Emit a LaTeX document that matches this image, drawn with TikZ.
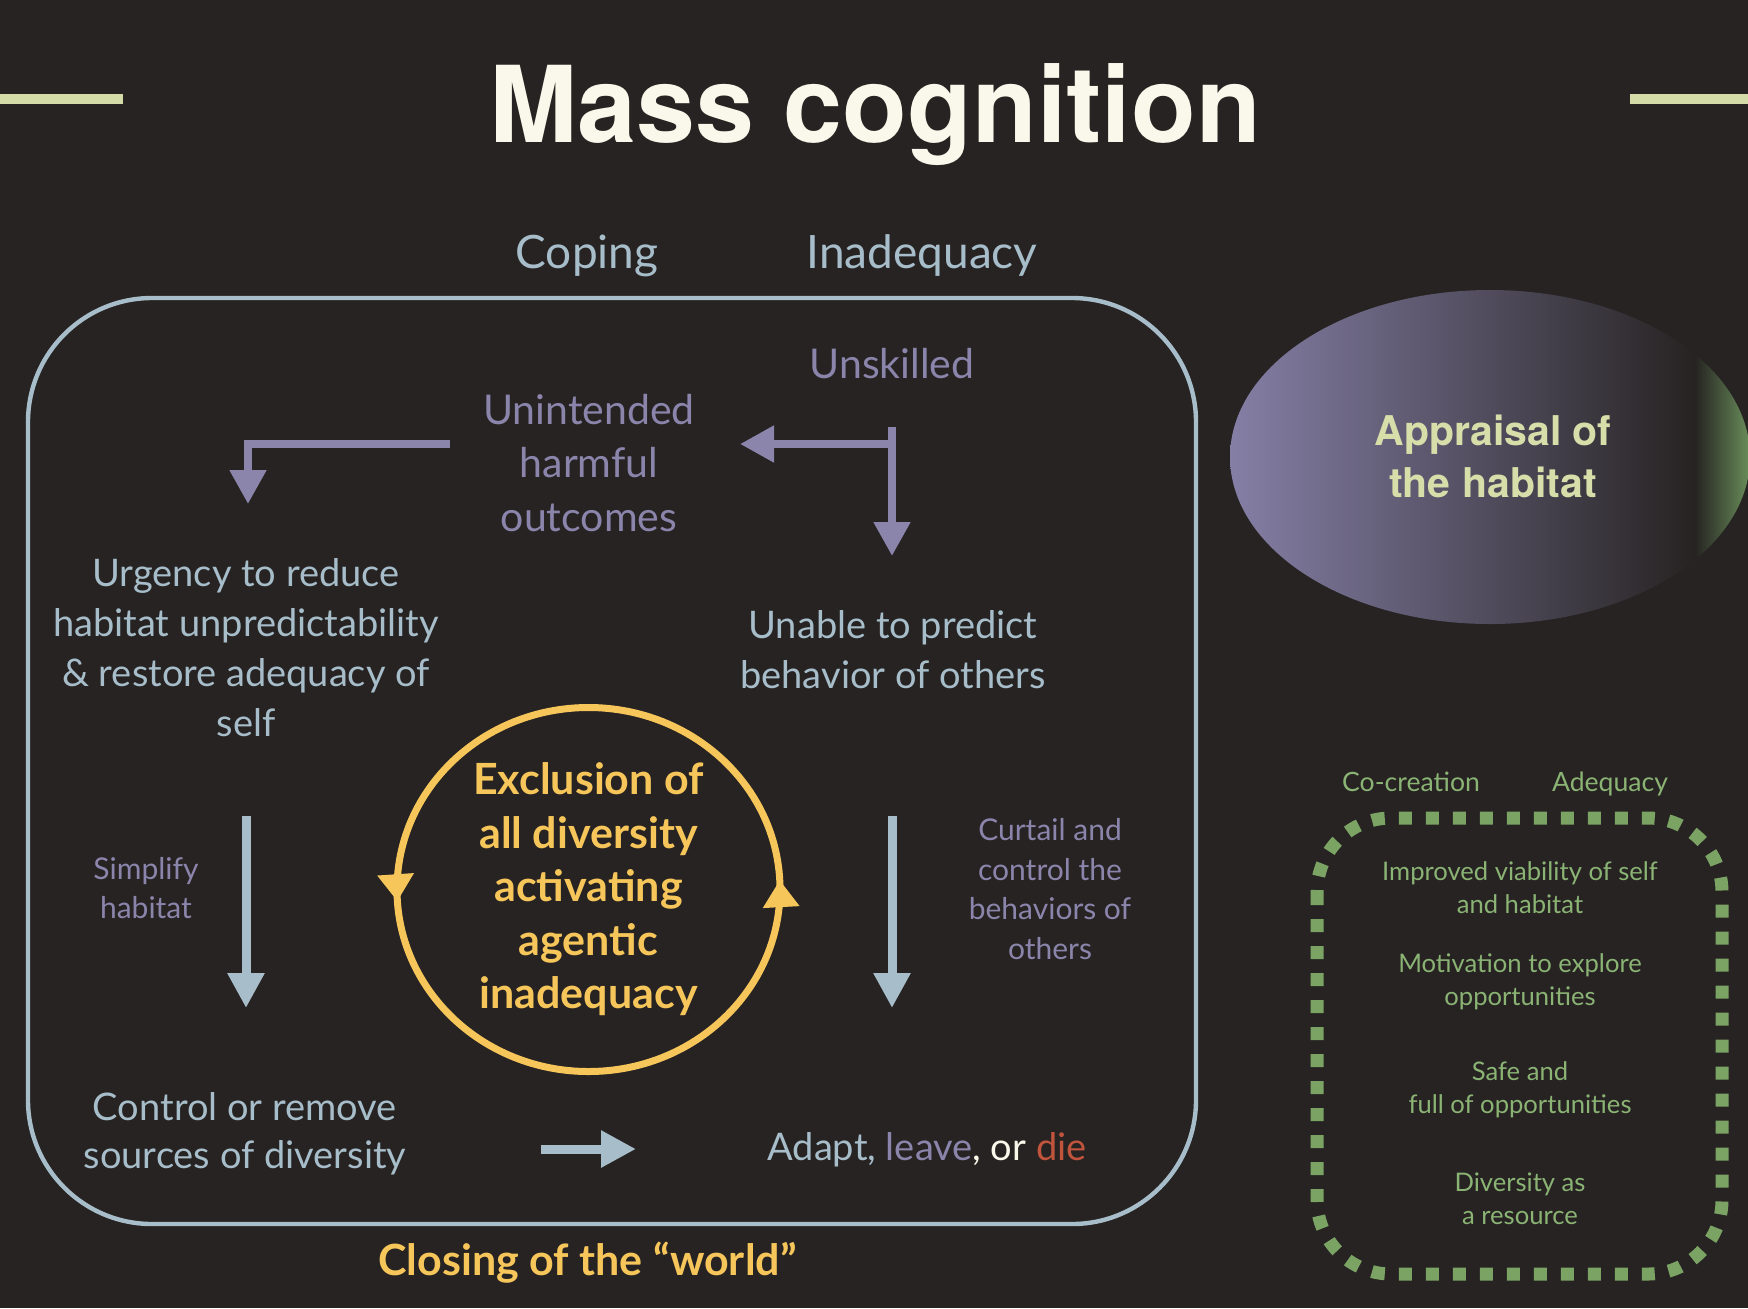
\documentclass[tikz,border=0pt]{standalone}
\usepackage{fontspec}
\setmainfont{Lato}
\newfontfamily\heros{TeX Gyre Heros}
\usetikzlibrary{arrows.meta,calc,decorations.markings}
\definecolor{bgdark}{RGB}{38,35,34}
\definecolor{titlecream}{RGB}{250,248,234}
\definecolor{barlime}{RGB}{213,219,168}
\definecolor{slateblue}{RGB}{167,189,202}
\definecolor{lavender}{RGB}{139,133,172}
\definecolor{ochre}{RGB}{246,198,91}
\definecolor{rust}{RGB}{193,84,60}
\definecolor{mossgreen}{RGB}{123,164,100}
\definecolor{mosstext}{RGB}{138,179,116}
\definecolor{appraisal}{RGB}{215,222,170}
\definecolor{ellpurple}{RGB}{133,127,166}
\definecolor{ellgreen}{RGB}{108,146,92}

\begin{document}
\begin{tikzpicture}[x=0.5pt,y=0.5pt,
    every node/.style={inner sep=0pt},
    slatetext/.style={slateblue,align=center,font=\fontsize{19}{25}\selectfont},
    lavtext/.style={lavender,align=center,font=\fontsize{20.5}{26.75}\selectfont},
    lavnote/.style={lavender,align=center,font=\fontsize{15}{19.75}\selectfont},
    mosslabel/.style={mosstext,align=center,font=\fontsize{12.8}{16.5}\selectfont},
    loopword/.style={ochre,align=center,font=\bfseries\fontsize{21.5}{26.75}\selectfont},
    purplearrow/.style={lavender,line width=4pt,-{Triangle[length=17pt,width=17.5pt]}},
    slatearrow/.style={slateblue,line width=4.5pt,-{Triangle[length=17.5pt,width=17.5pt]}}]
  \useasboundingbox (0,0) rectangle (1748,-1308);
  \clip (0,0) rectangle (1748,-1308);
  \fill[bgdark] (0,0) rectangle (1748,-1308);
  % title and side bars
  \fill[barlime] (0,-94) rectangle (123,-104);
  \fill[barlime] (1630,-94) rectangle (1748,-104);
  \node[anchor=base,titlecream,font=\heros\bfseries\fontsize{53}{60}\selectfont] (title) at (875,-142) {Mass cognition};
  \node[anchor=base,slateblue,font=\fontsize{23}{28}\selectfont] (coping) at (587,-268) {Coping};
  \node[anchor=base,slateblue,font=\fontsize{23}{28}\selectfont] (inadequacy) at (922,-268) {Inadequacy};
  % the closed world
  \draw[slateblue,line width=2.2pt,rounded corners=62pt] (28,-298) rectangle (1196,-1224);
  \node[anchor=base,lavender,font=\fontsize{20.5}{26}\selectfont] (unskilled) at (892,-378) {Unskilled};
  \node[lavtext] (unintended) at (589,-463) {Unintended\\harmful\\outcomes};
  \node[slatetext] (urgency) at (246,-648) {Urgency to reduce\\habitat unpredictability\\\& restore adequacy of\\self};
  \node[slatetext] (unable) at (893,-650) {Unable to predict\\behavior of others};
  \node[lavnote] (simplify) at (146,-888) {Simplify\\habitat};
  \node[lavnote] (curtail) at (1050,-889) {Curtail and\\control the\\behaviors of\\others};
  \node[loopword] (excl) at (588.5,-889.5) {Exclusion of\\all diversity\\activating\\agentic\\inadequacy};
  \node[slatetext,font=\fontsize{19}{24}\selectfont] (control) at (245,-1134) {Control or remove\\sources of diversity};
  \node[anchor=base,slateblue,font=\fontsize{19}{24}\selectfont] (adapt) at (927,-1160) {Adapt, \textcolor{lavender}{leave}\textcolor{titlecream}{, or} \textcolor{rust}{die}};
  \node[anchor=base,ochre,font=\bfseries\fontsize{21.5}{24}\selectfont] (closing) at (587.5,-1275) {Closing of the “world”};
  % arrow ends
  \coordinate (skillTop) at (892,-427);
  \coordinate (fork) at (892,-444);
  \coordinate (skillTip) at (892,-556);
  \coordinate (harmTip) at (740,-444);
  \coordinate (harmStart) at (450,-444);
  \coordinate (harmBend) at (248,-444);
  \coordinate (urgTip) at (248,-504);
  \coordinate (simpTop) at (246,-816);
  \coordinate (simpTip) at (246,-1008);
  \coordinate (curtTop) at (892,-816);
  \coordinate (curtTip) at (892,-1008);
  \coordinate (ctrlStart) at (541,-1149);
  \coordinate (ctrlTip) at (636,-1149);
  \draw[purplearrow] (skillTop) -- (skillTip);
  \draw[purplearrow] (fork) -- (harmTip);
  \draw[purplearrow] (harmStart) -- (harmBend) -- (urgTip);
  \draw[slatearrow] (simpTop) -- (simpTip);
  \draw[slatearrow] (curtTop) -- (curtTip);
  \draw[slatearrow] (ctrlStart) -- (ctrlTip);
  % loop round the centre
  \draw[ochre,line width=3.5pt,
    decoration={markings,
      mark=at position 0.258 with {\arrow{Triangle[length=13.5pt,width=17.5pt]}},
      mark=at position 0.76 with {\arrow{Triangle[length=13.5pt,width=17.5pt]}}},
    postaction={decorate}]
    ($(excl.center)+(0,-182)$) arc[start angle=-90,end angle=270,x radius=191.5,y radius=182];
  % appraisal blob
  \begin{scope}
    \clip (1490,-457) ellipse [x radius=260,y radius=167];
    \shade[left color=ellpurple,right color=bgdark] (1230,-280) rectangle (1695,-640);
    \shade[left color=bgdark,right color=ellgreen] (1695,-280) rectangle (1752,-640);
  \end{scope}
  \node[appraisal,align=center,font=\heros\bfseries\fontsize{20.5}{26}\selectfont] (appraise) at (1493,-456.5) {Appraisal of\\the habitat};
  % open world
  \draw[mossgreen,line width=6.5pt,dash pattern=on 6.5pt off 7pt,rounded corners=37pt] (1317,-818) rectangle (1722,-1274);
  \node[anchor=base,mosstext,font=\fontsize{13.3}{16}\selectfont] (cocreation) at (1411,-791) {Co-creation};
  \node[anchor=base,mosstext,font=\fontsize{13.3}{16}\selectfont] (adequacy) at (1610,-791) {Adequacy};
  \node[mosslabel] (viability) at (1520,-888) {Improved viability of self\\and habitat};
  \node[mosslabel] (motivation) at (1520,-982) {Motivation to explore\\opportunities};
  \node[mosslabel] (safe) at (1520,-1089.5) {Safe and\\full of opportunities};
  \node[mosslabel] (resource) at (1520,-1199) {Diversity as\\a resource};
\end{tikzpicture}
\end{document}
